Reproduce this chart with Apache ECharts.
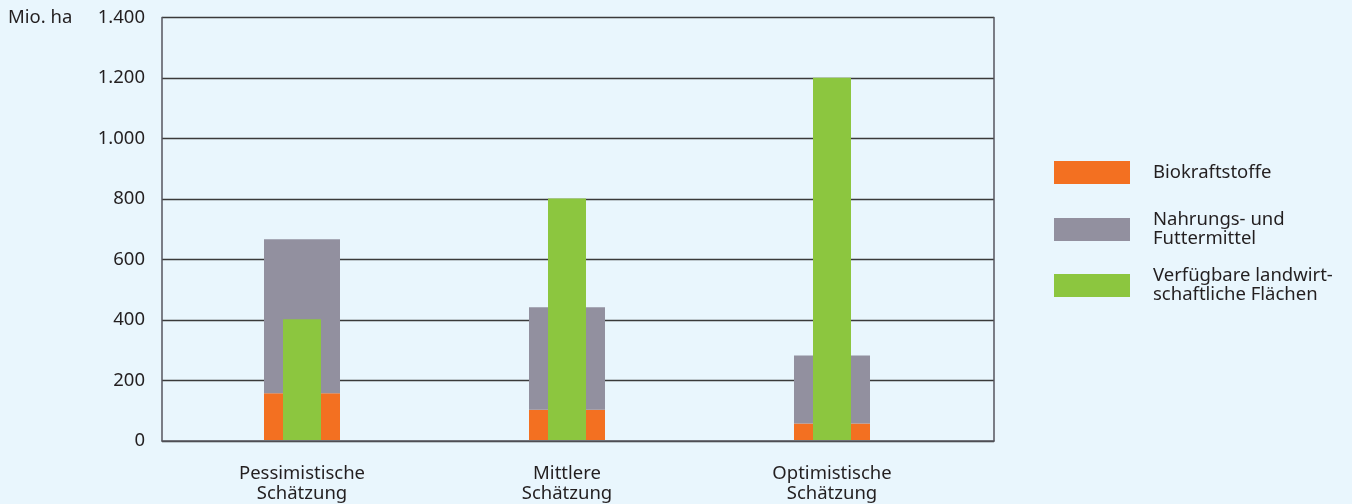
<!DOCTYPE html>
<html>
<head>
<meta charset="utf-8">
<script src="https://cdn.jsdelivr.net/npm/echarts@6/dist/echarts.min.js"></script>
<style>
html,body{margin:0;padding:0;background:#e9f6fd;}
#c{width:1352px;height:504px;}
</style>
</head>
<body>
<div id="c"></div>
<script>
const categories = ['Pessimistische\nSchätzung', 'Mittlere\nSchätzung', 'Optimistische\nSchätzung'];
const biokraftstoffe = [155, 100, 55];
const nahrungFutter = [510, 340, 225];
const flaechen = [400, 800, 1200];
const yTicks = [0, 200, 400, 600, 800, 1000, 1200, 1400];
const seriesNames = ['Biokraftstoffe', 'Nahrungs- und\nFuttermittel', 'Verfügbare landwirt-\nschaftliche Flächen'];
const yUnit = 'Mio. ha';

const FONT = 'Noto Sans';
const FS = 18.5;
const TXT = '#231f20';
const fmt = v => v >= 1000 ? String(v).replace(/(\d)(\d{3})$/, '$1.$2') : String(v);

const chart = echarts.init(document.getElementById('c'), null, {renderer: 'canvas'});
const legendBase = {
  orient: 'vertical', left: 1054, itemWidth: 76, itemHeight: 23, padding: 0,
  icon: 'rect', selectedMode: false,
  textStyle: {fontFamily: FONT, fontSize: FS, color: TXT, lineHeight: 19, padding: [0, 0, 0, 18]}
};
chart.setOption({
  backgroundColor: '#e9f6fd',
  animation: false,
  title: {text: yUnit, left: 3, top: 3, textStyle: {fontFamily: FONT, fontSize: FS, fontWeight: 'normal', color: TXT}},
  legend: [
    Object.assign({}, legendBase, {top: 161, data: [seriesNames[0]]}),
    Object.assign({}, legendBase, {top: 210.5, data: [seriesNames[1]]}),
    Object.assign({}, legendBase, {top: 266.5, data: [seriesNames[2]]})
  ],
  grid: [
    {left: 162, right: 358, top: 17.5, bottom: 63},
    {left: 169.5, width: 795, top: 17.5, bottom: 63}
  ],
  xAxis: [
    {gridIndex: 0, type: 'value', min: 0, max: 1, position: 'bottom',
     axisLine: {show: true, lineStyle: {color: '#55555e', width: 1.5}},
     axisTick: {show: false}, axisLabel: {show: false}, splitLine: {show: false}, z: 10},
    {gridIndex: 1, type: 'category', data: categories,
     axisLine: {show: false}, axisTick: {show: false},
     axisLabel: {fontFamily: FONT, fontSize: FS, color: TXT, lineHeight: 20.5, margin: 23}},
    {gridIndex: 1, type: 'category', data: categories, show: false}
  ],
  yAxis: [
    {gridIndex: 0, type: 'value', min: 0, max: 1400, interval: 200,
     axisLine: {show: true, lineStyle: {color: '#55555e', width: 1.5}},
     axisTick: {show: false},
     axisLabel: {fontFamily: FONT, fontSize: FS, color: TXT, margin: 17, formatter: fmt},
     splitLine: {show: true, lineStyle: {color: '#3a3a3a', width: 1.3}}},
    {gridIndex: 0, type: 'value', min: 0, max: 1400, interval: 200, position: 'right',
     axisLine: {show: true, lineStyle: {color: '#55555e', width: 1.5}},
     axisTick: {show: false}, axisLabel: {show: false}, splitLine: {show: false}},
    {gridIndex: 1, type: 'value', min: 0, max: 1400, show: false, splitLine: {show: false}}
  ],
  series: [
    {name: seriesNames[0], type: 'bar', xAxisIndex: 1, yAxisIndex: 2, stack: 'a', barWidth: 76,
     itemStyle: {color: '#f37021'}, data: biokraftstoffe},
    {name: seriesNames[1], type: 'bar', xAxisIndex: 1, yAxisIndex: 2, stack: 'a', barWidth: 76,
     itemStyle: {color: '#92909f'}, data: nahrungFutter},
    {name: seriesNames[2], type: 'bar', xAxisIndex: 2, yAxisIndex: 2, barWidth: 38,
     itemStyle: {color: '#8cc63f'}, data: flaechen}
  ]
});
</script>
</body>
</html>
